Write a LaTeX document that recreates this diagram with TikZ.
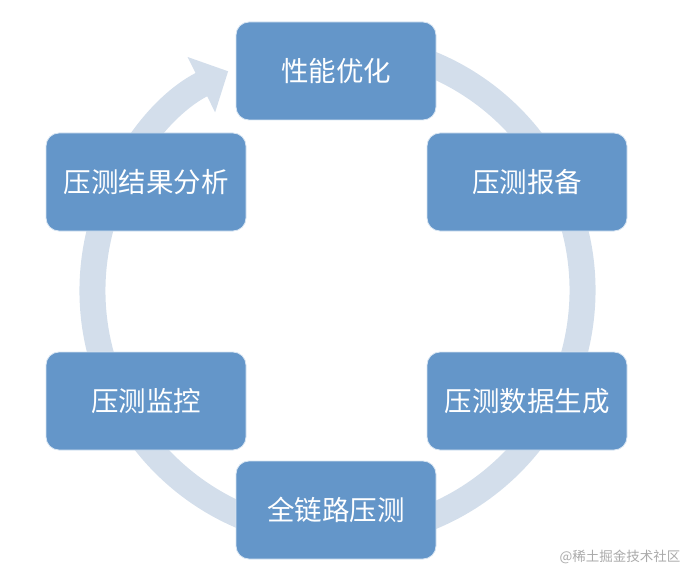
\documentclass[tikz,border=0pt]{standalone}
\usepackage{fontspec}
\newfontfamily\cjk{Noto Sans CJK SC}
\usepackage{tikz}
\usetikzlibrary{arrows.meta,positioning}
\definecolor{stepblue}{RGB}{100,150,201}
\definecolor{ringblue}{RGB}{211,222,235}
\definecolor{markgray}{RGB}{170,170,170}

\begin{document}
\begin{tikzpicture}[
        x=1pt, y=1pt,
        font=\cjk\fontsize{27.5pt}{30pt}\selectfont,
        stepbox/.style={draw=white!75!stepblue, line width=0.8pt, fill=stepblue, text=white, rounded corners=13pt, minimum width=200pt, minimum height=98pt, inner sep=0pt, align=center},
        ring/.style={ringblue, line width=26pt, -{Triangle[width=60pt,length=30pt]}},
        watermark/.style={text=markgray, font=\cjk\fontsize{13.5pt}{16pt}\selectfont, inner sep=0pt}
    ]
        \useasboundingbox (0,0) rectangle (690,574);
        \coordinate (c) at (337.5,283.5);
        % cycle ring behind the boxes
        \draw[ring] ([shift={(80:245pt)}]c) arc[start angle=80, end angle=-243.5, radius=245pt];
        % steps
        \node[stepbox] (opt) at (336,503) {性能优化};
        \node[stepbox] (report) at (527,392) {压测报备};
        \node[stepbox] (data) at (527,173) {压测数据生成};
        \node[stepbox] (full) at (336,64) {全链路压测};
        \node[stepbox] (monitor) at (146,173) {压测监控};
        \node[stepbox] (result) at (146,392) {压测结果分析};
        \node[watermark] (wm) at (620,17) {@稀土掘金技术社区};
    \end{tikzpicture}
\end{document}
